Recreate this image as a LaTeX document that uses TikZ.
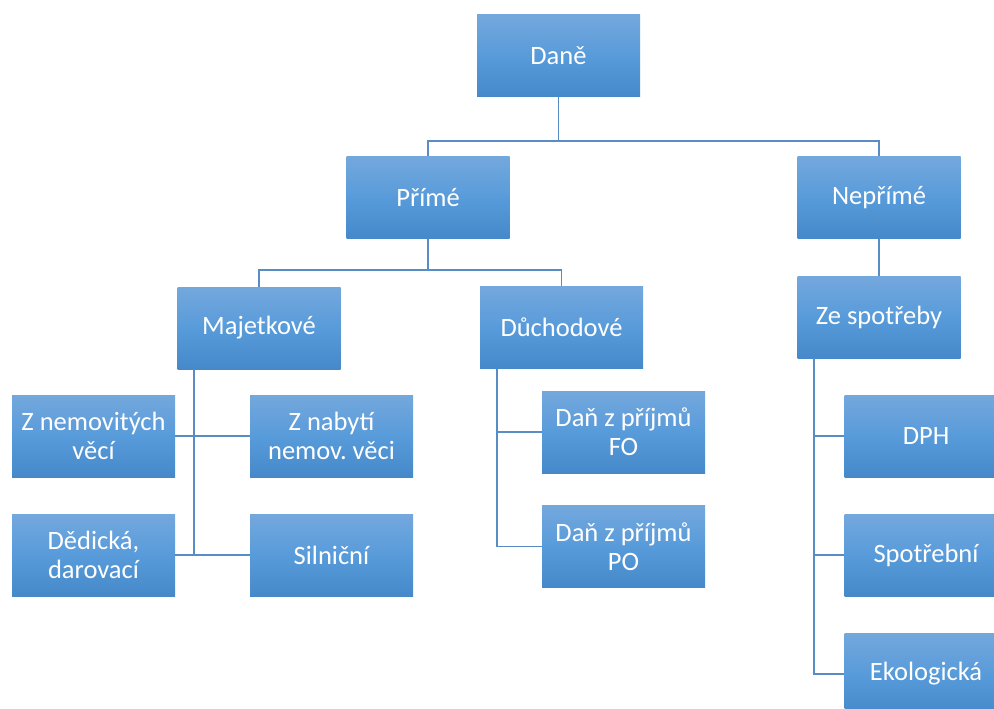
\documentclass[tikz,border=0pt]{standalone}
\usepackage{fontspec}
\setmainfont{Carlito}
\frenchspacing
\definecolor{btop}{RGB}{116,168,221}
\definecolor{bmid}{RGB}{88,155,218}
\definecolor{bbot}{RGB}{70,137,202}
\definecolor{lineblue}{RGB}{88,140,196}
\begin{document}
\begin{tikzpicture}[x=1pt,y=-1pt,
  box/.style={rectangle, inner sep=0pt, minimum width=163pt, minimum height=82pt,
    top color=btop, bottom color=bbot, middle color=bmid, text=white, align=center,
    font=\fontsize{26.5}{29}\selectfont\frenchspacing},
  conn/.style={draw=lineblue, line width=1.6pt}]
\useasboundingbox (0,0) rectangle (994,709);
\clip (0,0) rectangle (994,709);
\fill[white] (0,0) rectangle (994,709);
\node[box] (dane) at (558.5,56) {Daně};
\node[box] (prime) at (428,197.5) {Přímé};
\node[box] (neprime) at (879,197.5) {Nepřímé};
\node[box] (majet) at (259,328) {Majetkové};
\node[box] (duch) at (561.5,327.5) {Důchodové};
\node[box] (zespot) at (879,317) {Ze spotřeby};
\node[box] (znem) at (93.5,436) {Z nemovitých\\věcí};
\node[box] (znab) at (331.5,436) {Z nabytí\\nemov. věci};
\node[box] (dedic) at (93.5,555) {Dědická,\\darovací};
\node[box] (siln) at (331.5,555) {Silniční};
\node[box] (fo) at (623.5,432) {Daň z příjmů\\FO};
\node[box] (po) at (623.5,546.5) {Daň z příjmů\\PO};
\node[box] (dph) at (926,436) {DPH};
\node[box] (spotr) at (926,555) {Spotřební};
\node[box] (ekol) at (926,674) {Ekologická};
\coordinate (j1) at (558.5,141);
\coordinate (j2) at (428,270);
\coordinate (m1) at (194,369);
\coordinate (d1) at (497,368.5);
\coordinate (z1) at (814,358);
\draw[conn] (dane.south) -- (j1);
\draw[conn] (j1) -| (prime.north);
\draw[conn] (j1) -| (neprime.north);
\draw[conn] (prime.south) -- (j2);
\draw[conn] (j2) -| (majet.north);
\draw[conn] (j2) -| (duch.north);
\draw[conn] (neprime.south) -- (zespot.north);
\draw[conn] (m1) -- (m1 |- siln.west);
\draw[conn] (znem.east) -- (znab.west);
\draw[conn] (dedic.east) -- (siln.west);
\draw[conn] (d1) |- (fo.west);
\draw[conn] (d1) |- (po.west);
\draw[conn] (z1) |- (dph.west);
\draw[conn] (z1) |- (spotr.west);
\draw[conn] (z1) |- (ekol.west);
\end{tikzpicture}
\end{document}
